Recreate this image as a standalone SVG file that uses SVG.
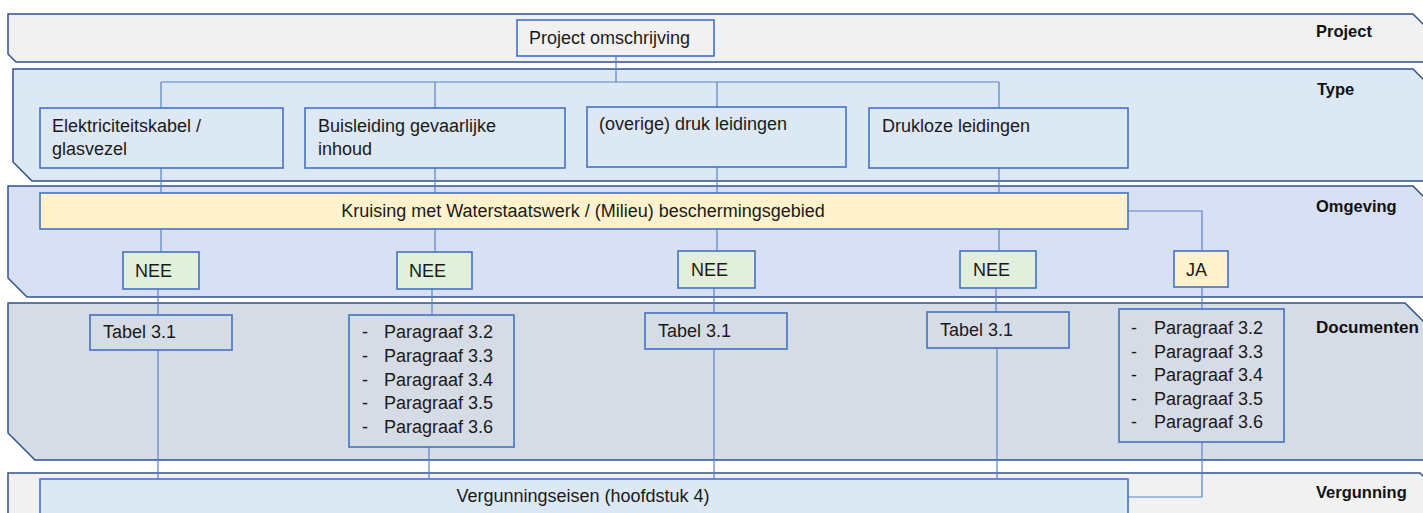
<svg xmlns="http://www.w3.org/2000/svg" width="1423" height="513" viewBox="0 0 1423 513">
<style>
.band{stroke:#2f528f;stroke-width:1.5}
.box{stroke:#4472c4;stroke-width:1.6}
.t{font-family:"Liberation Sans",Arial,sans-serif;font-size:18px;fill:#1a1a1a}
.lbl{font-family:"Liberation Sans",Arial,sans-serif;font-size:16.5px;font-weight:bold;fill:#111}
.c{fill:none;stroke:#5b80cc;stroke-width:1.2}
</style>
<rect width="1423" height="513" fill="#ffffff"/>
<g id="bands">
<g id="band-project"><path class="band" fill="#f1f1f1" d="M8,14 H1413 L1431,32 V62 H16 L8,54 Z"/><text class="lbl" x="1316" y="37">Project</text></g>
<g id="band-type"><path class="band" fill="#dde8f5" d="M13,69 H1413 L1431,87 V181 H32 L13,162 Z"/><text class="lbl" x="1317" y="95">Type</text></g>
<g id="band-omgeving"><path class="band" fill="#d8e1f3" d="M8,186 H1413 L1431,204 V297 H27 L8,278 Z"/><text class="lbl" x="1316" y="212">Omgeving</text></g>
<g id="band-documenten"><path class="band" fill="#d6dce6" d="M8,303 H1405 L1431,329 V460 H35 L8,433 Z"/><text class="lbl" x="1316" y="333" style="font-size:17px">Documenten</text></g>
<g id="band-vergunning"><path class="band" fill="#f1f1f1" d="M8,473 H1420 L1440,493 V530 H8 Z"/><text class="lbl" x="1316" y="498">Vergunning</text></g>
</g>
<g id="connectors">
<path class="c" d="M616,56 V82 M161,82 H999 M161,82 V108 M435,82 V108 M717,82 V107 M999,82 V108"/>
<path class="c" d="M161,168 V193 M435,168 V193 M717,167 V193 M999,168 V193"/>
<path class="c" d="M161,229 V252 M435,229 V252 M717,229 V251 M999,229 V251 M1128,211 H1202 V251"/>
<path class="c" d="M158,289 V315 M432,289 V315 M714,288 V313 M996,288 V312 M1202,287 V309"/>
<path class="c" d="M158,350 V479 M429,447 V479 M714,349 V479 M997,348 V479 M1202,442 V497 H1128"/>
</g>
<g id="n-project"><rect class="box" fill="#f1f1f1" x="517" y="20" width="197" height="36"/><text class="t" x="529" y="44">Project omschrijving</text></g>
<g id="n-elek"><rect class="box" fill="#dde8f5" x="40" y="108" width="243" height="60"/><text class="t" x="52" y="131.5">Elektriciteitskabel /</text><text class="t" x="52" y="155">glasvezel</text></g>
<g id="n-buis"><rect class="box" fill="#dde8f5" x="305" y="108" width="260" height="60"/><text class="t" x="318" y="131.5">Buisleiding gevaarlijke</text><text class="t" x="318" y="155">inhoud</text></g>
<g id="n-druk"><rect class="box" fill="#dde8f5" x="587" y="107" width="259" height="60"/><text class="t" x="599" y="130">(overige) druk leidingen</text></g>
<g id="n-drukloos"><rect class="box" fill="#dde8f5" x="869" y="108" width="259" height="60"/><text class="t" x="882" y="131.5">Drukloze leidingen</text></g>
<g id="n-kruising"><rect class="box" fill="#fff2cc" x="40" y="193" width="1088" height="36"/><text class="t" x="583" y="216.5" text-anchor="middle">Kruising met Waterstaatswerk / (Milieu) beschermingsgebied</text></g>
<g id="n-nee1"><rect class="box" fill="#e2efda" x="123" y="252" width="76" height="37"/><text class="t" x="135" y="277">NEE</text></g>
<g id="n-nee2"><rect class="box" fill="#e2efda" x="397" y="252" width="75" height="37"/><text class="t" x="409" y="277">NEE</text></g>
<g id="n-nee3"><rect class="box" fill="#e2efda" x="678" y="251" width="77" height="37"/><text class="t" x="691" y="276">NEE</text></g>
<g id="n-nee4"><rect class="box" fill="#e2efda" x="960" y="251" width="76" height="37"/><text class="t" x="973" y="276">NEE</text></g>
<g id="n-ja"><rect class="box" fill="#fff2cc" x="1174" y="251" width="54" height="36"/><text class="t" x="1186" y="276">JA</text></g>
<g id="n-tabel1"><rect class="box" fill="#d6dce6" x="90" y="315" width="142" height="35"/><text class="t" x="103" y="338">Tabel 3.1</text></g>
<g id="n-para1"><rect class="box" fill="#d6dce6" x="349" y="315" width="165" height="132"/>
<text class="t" x="362" y="338">-</text><text class="t" x="384" y="338">Paragraaf 3.2</text>
<text class="t" x="362" y="362">-</text><text class="t" x="384" y="362">Paragraaf 3.3</text>
<text class="t" x="362" y="385.5">-</text><text class="t" x="384" y="385.5">Paragraaf 3.4</text>
<text class="t" x="362" y="409">-</text><text class="t" x="384" y="409">Paragraaf 3.5</text>
<text class="t" x="362" y="432.5">-</text><text class="t" x="384" y="432.5">Paragraaf 3.6</text></g>
<g id="n-tabel3"><rect class="box" fill="#d6dce6" x="645" y="313" width="142" height="36"/><text class="t" x="658" y="336.5">Tabel 3.1</text></g>
<g id="n-tabel4"><rect class="box" fill="#d6dce6" x="927" y="312" width="142" height="36"/><text class="t" x="940" y="336">Tabel 3.1</text></g>
<g id="n-para2"><rect class="box" fill="#d6dce6" x="1119" y="309" width="165" height="133"/>
<text class="t" x="1131" y="334">-</text><text class="t" x="1154" y="334">Paragraaf 3.2</text>
<text class="t" x="1131" y="357.5">-</text><text class="t" x="1154" y="357.5">Paragraaf 3.3</text>
<text class="t" x="1131" y="381">-</text><text class="t" x="1154" y="381">Paragraaf 3.4</text>
<text class="t" x="1131" y="404.5">-</text><text class="t" x="1154" y="404.5">Paragraaf 3.5</text>
<text class="t" x="1131" y="428">-</text><text class="t" x="1154" y="428">Paragraaf 3.6</text></g>
<g id="n-vergunning"><rect class="box" fill="#dde8f5" x="40" y="479" width="1088" height="45"/><text class="t" x="583" y="501.5" text-anchor="middle">Vergunningseisen (hoofdstuk 4)</text></g>
</svg>
